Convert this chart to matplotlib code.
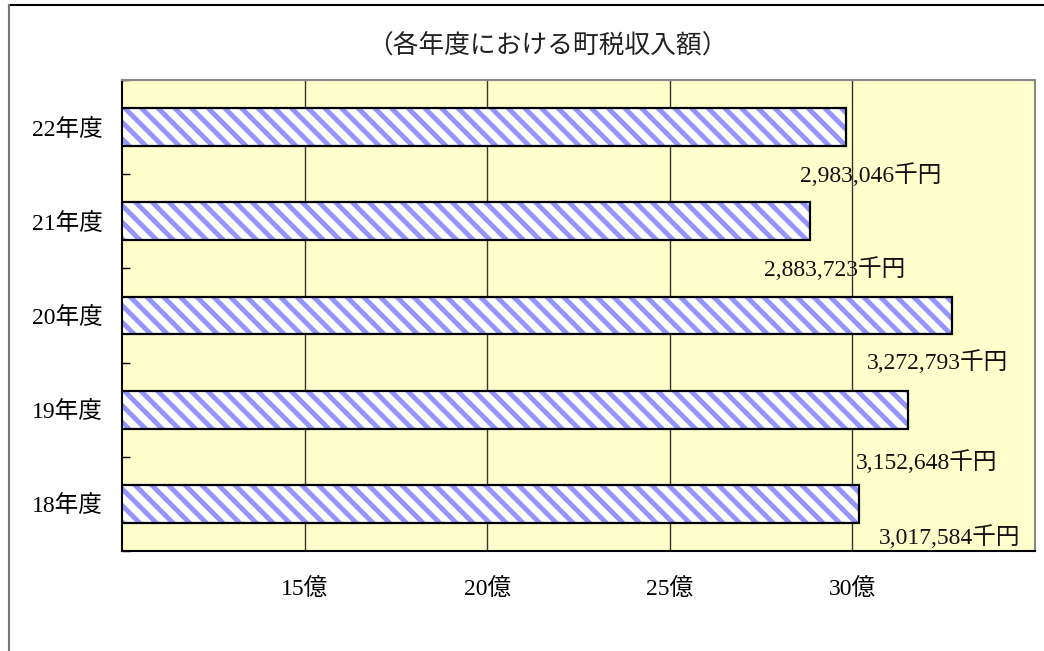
import matplotlib
matplotlib.use("Agg")
import matplotlib.pyplot as plt
from matplotlib.lines import Line2D

# ---- data ----
categories = ["18年度", "19年度", "20年度", "21年度", "22年度"]
values_senen = [3017584, 3152648, 3272793, 2883723, 2983046]   # 千円
xtick_values = [15, 20, 25, 30]                                 # 億
xtick_labels = ["15億", "20億", "25億", "30億"]
title = "（各年度における町税収入額）"

# label placement (layout, in data coords: x in 億, y in category units)
label_pos = [(32.65, -0.35), (32.04, 0.445), (32.34, 1.51), (29.50, 2.49), (30.51, 3.49)]

plt.rcParams['font.family'] = ['Liberation Serif', 'Noto Sans CJK JP']
plt.rcParams['hatch.linewidth'] = 3.5

W, H = 1044, 651
fig = plt.figure(figsize=(W / 100, H / 100), dpi=100)
ax = fig.add_axes([122 / W, 1 - 551 / H, (1035 - 122) / W, (551 - 80) / H])
ax.set_facecolor('#FFFFCC')

vals_oku = [v / 100000 for v in values_senen]   # 千円 -> 億
ypos = list(range(len(categories)))

ax.set_xlim(10, 35)
ax.set_ylim(-0.5, len(categories) - 0.5)

for x in xtick_values:
    ax.axvline(x, color='#333333', lw=1.0, zorder=1)

ax.barh(ypos, vals_oku, left=0, height=0.40, color='white', edgecolor='#9494FF',
        hatch='\\\\', linewidth=0, zorder=2)
ax.barh(ypos, vals_oku, left=0, height=0.40, fill=False, edgecolor='black',
        linewidth=1.6, zorder=3)

for v, (lx, ly) in zip(values_senen, label_pos):
    ax.text(lx, ly, f"{v:,}千円", ha='center', va='center', fontsize=17,
            color='#111111', zorder=4)

ax.set_yticks(ypos)
ax.set_yticklabels(categories, fontsize=17)
ax.tick_params(axis='y', which='major', length=0, pad=14)
ax.set_yticks([i - 0.5 for i in range(len(categories) + 1)], minor=True)
ax.tick_params(axis='y', which='minor', direction='in', length=6, width=1, color='black')

ax.set_xticks(xtick_values)
ax.set_xticklabels(xtick_labels, fontsize=17)
ax.tick_params(axis='x', which='major', length=0, pad=20)

for s in ['left', 'bottom']:
    ax.spines[s].set_color('black')
    ax.spines[s].set_linewidth(1.5)
for s in ['top', 'right']:
    ax.spines[s].set_color('#888888')
    ax.spines[s].set_linewidth(1.5)

fig.text(547 / W, 1 - 46 / H, title, ha='center', va='center', fontsize=18.5,
         family=['Noto Sans CJK JP', 'DejaVu Sans'], color='#222222')

# outer chart border (top and left visible)
fig.add_artist(Line2D([9 / W, 1], [1 - 5 / H, 1 - 5 / H], transform=fig.transFigure,
                      color='black', lw=1.5))
fig.add_artist(Line2D([9 / W, 9 / W], [0, 1 - 5 / H], transform=fig.transFigure,
                      color='#777777', lw=1.5))

fig.savefig("out.png", dpi=100, facecolor='white')
